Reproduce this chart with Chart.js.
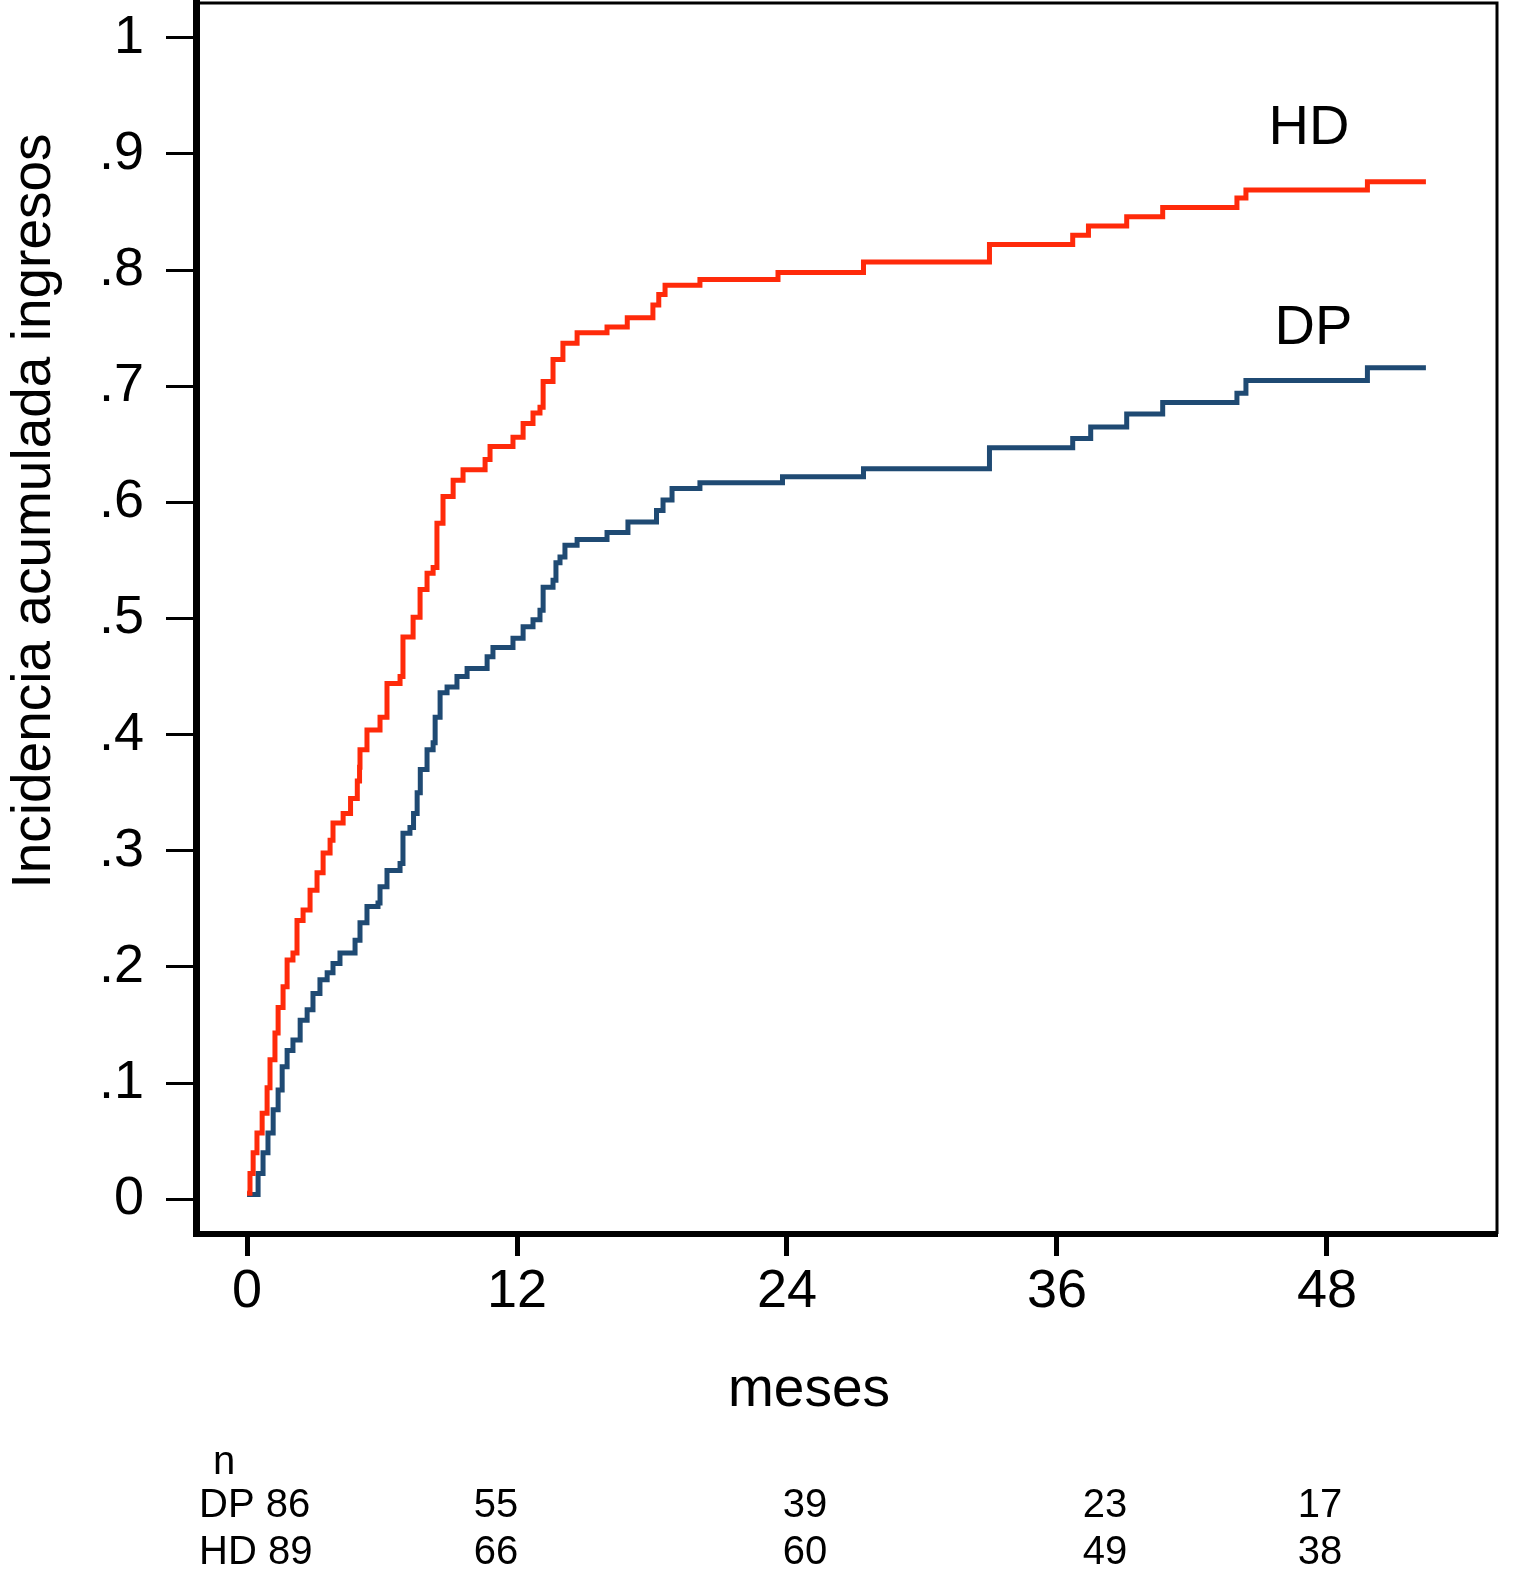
<!DOCTYPE html>
<html lang="es">
<head>
<meta charset="utf-8">
<title>Incidencia acumulada ingresos</title>
<script src="https://cdn.jsdelivr.net/npm/chart.js@4.4.1/dist/chart.umd.min.js"></script>
<style>
    html, body { margin: 0; padding: 0; background: #fff; }
    #grafico { display: block; }
</style>
</head>
<body>
<canvas id="grafico" width="1530" height="1583"></canvas>
<script>
// Curva HD (meses, incidencia acumulada)
const hdMeses = [0, 0.13, 0.27, 0.44, 0.67, 0.89, 1.02, 1.24, 1.38, 1.6, 1.78, 2.04, 2.22, 2.49, 2.8, 3.11, 3.38, 3.69, 3.82, 4.27, 4.6, 4.9, 5.0, 5.02, 5.33, 5.91, 6.22, 6.8, 6.93, 7.38, 7.69, 8.0, 8.27, 8.44, 8.71, 9.16, 9.6, 10.58, 10.8, 11.82, 12.27, 12.71, 13.02, 13.16, 13.6, 14.04, 14.67, 16.0, 16.9, 18.04, 18.3, 18.58, 20.13, 23.6, 27.4, 33.0, 36.7, 37.4, 39.1, 40.7, 44.0, 44.4, 49.8, 52.4];
const hdValores = [0.005, 0.022, 0.040, 0.057, 0.074, 0.096, 0.120, 0.143, 0.165, 0.183, 0.206, 0.212, 0.240, 0.249, 0.266, 0.281, 0.298, 0.309, 0.324, 0.332, 0.345, 0.360, 0.372, 0.387, 0.404, 0.415, 0.444, 0.450, 0.484, 0.501, 0.525, 0.539, 0.544, 0.582, 0.605, 0.619, 0.628, 0.637, 0.648, 0.656, 0.668, 0.677, 0.682, 0.704, 0.723, 0.737, 0.746, 0.751, 0.759, 0.770, 0.779, 0.787, 0.792, 0.798, 0.807, 0.822, 0.830, 0.838, 0.846, 0.854, 0.862, 0.869, 0.876, 0.876];

// Curva DP
const dpMeses = [0, 0.49, 0.71, 0.93, 1.16, 1.38, 1.56, 1.78, 2.04, 2.36, 2.67, 2.93, 3.24, 3.56, 3.82, 4.13, 4.8, 5.02, 5.33, 5.82, 5.91, 6.22, 6.8, 6.93, 7.24, 7.4, 7.56, 7.7, 8.0, 8.27, 8.36, 8.58, 8.89, 9.33, 9.78, 10.67, 10.93, 11.82, 12.27, 12.71, 13.02, 13.16, 13.6, 13.73, 13.91, 14.13, 14.67, 16.0, 16.93, 18.2, 18.49, 18.89, 20.13, 23.8, 27.4, 33.0, 36.7, 37.5, 39.1, 40.7, 44.0, 44.4, 49.8, 52.4];
const dpValores = [0.004, 0.022, 0.040, 0.057, 0.077, 0.094, 0.114, 0.128, 0.137, 0.154, 0.163, 0.177, 0.189, 0.195, 0.203, 0.212, 0.223, 0.238, 0.252, 0.255, 0.269, 0.283, 0.289, 0.315, 0.320, 0.332, 0.350, 0.370, 0.387, 0.393, 0.415, 0.436, 0.441, 0.450, 0.457, 0.467, 0.475, 0.483, 0.493, 0.499, 0.507, 0.527, 0.533, 0.548, 0.553, 0.563, 0.568, 0.574, 0.583, 0.593, 0.602, 0.612, 0.617, 0.622, 0.629, 0.647, 0.655, 0.665, 0.676, 0.686, 0.694, 0.705, 0.716, 0.716];

// Ejes
const ticksX = [0, 12, 24, 36, 48];
const ticksY = [0, 0.1, 0.2, 0.3, 0.4, 0.5, 0.6, 0.7, 0.8, 0.9, 1];

// Pacientes en riesgo
const riesgoDP = [86, 55, 39, 23, 17];
const riesgoHD = [89, 66, 60, 49, 38];

const fuente = "'Liberation Sans', Arial, Helvetica, sans-serif";

function puntos(meses, valores) {
    return meses.map((m, i) => ({ x: m, y: valores[i] }));
}

function sinPadding(s) {
    s.paddingTop = 0;
    s.paddingBottom = 0;
    s.paddingLeft = 0;
    s.paddingRight = 0;
}

// textos, marco y tabla de riesgo
const extras = {
    id: "extras",
    afterDraw(chart) {
        const ctx = chart.ctx;
        const area = chart.chartArea;
        const x = chart.scales.x;
        const y = chart.scales.y;

        ctx.save();
        // marco superior y derecho
        ctx.strokeStyle = "#000";
        ctx.lineWidth = 3;
        ctx.beginPath();
        ctx.moveTo(area.left, area.top);
        ctx.lineTo(area.right, area.top);
        ctx.lineTo(area.right, area.bottom);
        ctx.stroke();

        ctx.fillStyle = "#000";

        // titulo eje y
        ctx.save();
        ctx.translate(50, 511);
        ctx.rotate(-Math.PI / 2);
        ctx.font = "55px " + fuente;
        ctx.textAlign = "center";
        ctx.textBaseline = "alphabetic";
        ctx.fillText("Incidencia acumulada ingresos", 0, 0);
        ctx.restore();

        // titulo eje x
        ctx.font = "55px " + fuente;
        ctx.textAlign = "center";
        ctx.textBaseline = "alphabetic";
        ctx.fillText("meses", 809, 1406);

        // etiquetas de las curvas
        ctx.font = "56px " + fuente;
        ctx.textBaseline = "middle";
        ctx.fillText("HD", x.getPixelForValue(47.2), y.getPixelForValue(0.922));
        ctx.fillText("DP", x.getPixelForValue(47.4), y.getPixelForValue(0.750));

        // tabla n
        ctx.font = "40px " + fuente;
        ctx.textBaseline = "alphabetic";
        ctx.textAlign = "left";
        ctx.fillText("n", 213, 1474);
        ctx.fillText("DP " + riesgoDP[0], 199, 1517);
        ctx.fillText("HD " + riesgoHD[0], 199, 1564);
        const colX = [496, 805, 1105, 1320];
        ctx.textAlign = "center";
        for (let i = 1; i < riesgoDP.length; i++) {
            ctx.fillText(String(riesgoDP[i]), colX[i - 1], 1517);
            ctx.fillText(String(riesgoHD[i]), colX[i - 1], 1564);
        }
        ctx.restore();
    }
};

const grafico = new Chart(document.getElementById("grafico"), {
    type: "line",
    data: {
        datasets: [
            {
                label: "HD",
                data: puntos(hdMeses, hdValores),
                borderColor: "#ff2a0a",
                borderWidth: 5,
                stepped: true,
                pointRadius: 0,
                fill: false
            },
            {
                label: "DP",
                data: puntos(dpMeses, dpValores),
                borderColor: "#1f4a73",
                borderWidth: 5,
                stepped: true,
                pointRadius: 0,
                fill: false
            }
        ]
    },
    options: {
        responsive: false,
        animation: false,
        devicePixelRatio: 1,
        layout: { padding: { top: 3, right: 33, left: 0, bottom: 0 } },
        plugins: {
            legend: { display: false },
            tooltip: { enabled: false }
        },
        scales: {
            x: {
                type: "linear",
                min: -2.27,
                max: 55.56,
                afterBuildTicks: s => { s.ticks = ticksX.map(v => ({ value: v })); },
                afterFit: s => { s.height = 349; sinPadding(s); },
                grid: {
                    drawOnChartArea: false,
                    drawTicks: true,
                    tickLength: 22,
                    tickWidth: 5,
                    tickColor: "#000"
                },
                border: { display: true, color: "#000", width: 6 },
                ticks: {
                    color: "#000",
                    padding: 4,
                    maxRotation: 0,
                    font: { family: fuente, size: 54 },
                    callback: v => String(v)
                }
            },
            y: {
                type: "linear",
                min: -0.030,
                max: 1.030,
                afterBuildTicks: s => { s.ticks = ticksY.map(v => ({ value: v })); },
                afterFit: s => { s.width = 196; sinPadding(s); },
                grid: {
                    drawOnChartArea: false,
                    drawTicks: true,
                    tickLength: 30,
                    tickWidth: 3,
                    tickColor: "#000"
                },
                border: { display: true, color: "#000", width: 7 },
                ticks: {
                    color: "#000",
                    padding: 22,
                    font: { family: fuente, size: 54 },
                    callback: v => {
                        const r = Math.round(v * 10);
                        if (r === 0) return "0";
                        if (r === 10) return "1";
                        return "." + r;
                    }
                }
            }
        }
    },
    plugins: [extras]
});
</script>
</body>
</html>
